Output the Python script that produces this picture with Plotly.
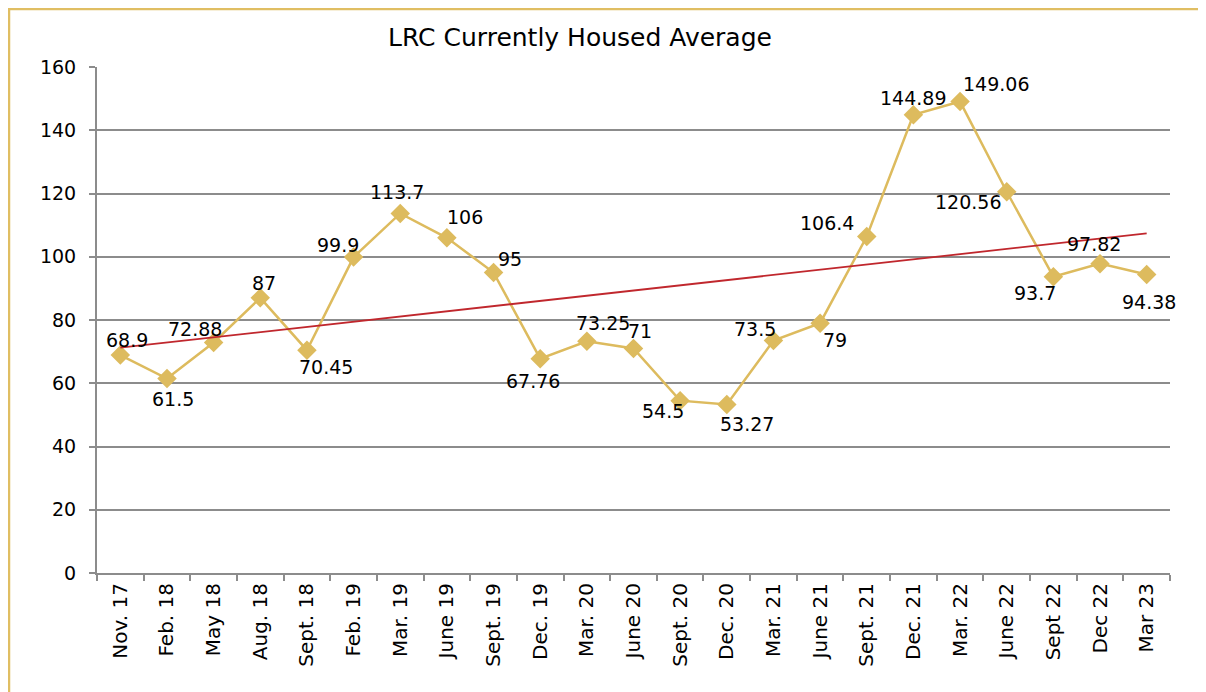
import numpy as np
import plotly.graph_objects as go

# quarterly averages
periods = ["Nov. 17", "Feb. 18", "May 18", "Aug. 18", "Sept. 18", "Feb. 19", "Mar. 19",
           "June 19", "Sept. 19", "Dec. 19", "Mar. 20", "June 20", "Sept. 20", "Dec. 20",
           "Mar. 21", "June 21", "Sept. 21", "Dec. 21", "Mar. 22", "June 22", "Sept 22",
           "Dec 22", "Mar 23"]
housed = [68.9, 61.5, 72.88, 87, 70.45, 99.9, 113.7, 106, 95, 67.76, 73.25, 71, 54.5,
          53.27, 73.5, 79, 106.4, 144.89, 149.06, 120.56, 93.7, 97.82, 94.38]
labels = ["68.9", "61.5", "72.88", "87", "70.45", "99.9", "113.7", "106", "95", "67.76",
          "73.25", "71", "54.5", "53.27", "73.5", "79", "106.4", "144.89", "149.06",
          "120.56", "93.7", "97.82", "94.38"]

# label offsets in px (right, down) from each marker
label_offsets = [(7, -15), (6, 20), (-19, -14), (4, -15), (19, 17), (-16, -12), (-3, -21),
                 (18, -21), (16, -14), (-7, 22), (16, -18), (6, -17), (-17, 10), (20, 19),
                 (-18, -12), (15, 17), (-40, -14), (0, -17), (36, -18), (-39, 10),
                 (-18, 16), (-6, -20), (2, 27)]

GOLD = "#DDBB5E"
RED = "#C0272D"
GRID = "#8C8C8C"
FONT = "DejaVu Sans"

# linear trend like Excel's trendline
idx = np.arange(len(housed))
slope, icpt = np.polyfit(idx, housed, 1)
trend = slope * idx + icpt

fig = go.Figure()
fig.add_trace(go.Scatter(x=periods, y=housed, mode="lines+markers",
                         line=dict(color=GOLD, width=2.5),
                         marker=dict(symbol="diamond", size=15, color=GOLD),
                         showlegend=False))
fig.add_trace(go.Scatter(x=periods, y=trend, mode="lines",
                         line=dict(color=RED, width=1.8), showlegend=False))

for p, v, t, (dx, dy) in zip(periods, housed, labels, label_offsets):
    fig.add_annotation(x=p, y=v, text=t, showarrow=False, xshift=dx, yshift=-dy,
                       font=dict(family=FONT, size=19, color="black"))

# page body has an 8px margin, so the figure is sized/offset to compensate
fig.update_layout(
    width=1198, height=684,
    margin=dict(l=89, r=36, t=59, b=119),
    paper_bgcolor="white", plot_bgcolor="white",
    font=dict(family=FONT, size=18, color="black"),
    title=dict(text="LRC Currently Housed Average", x=572 / 1198, xanchor="center",
               y=1 - 29 / 684, yanchor="middle", font=dict(family=FONT, size=25)),
    xaxis=dict(type="category", range=[-0.5, len(periods) - 0.5], tickangle=-90,
               showgrid=False, showline=True, linecolor=GRID, linewidth=2,
               ticks="outside", tickson="boundaries", ticklen=6, tickcolor=GRID,
               tickwidth=2, tickfont=dict(size=20)),
    yaxis=dict(range=[0, 160], dtick=20, showgrid=True, gridcolor=GRID, gridwidth=2,
               showline=True, linecolor=GRID, linewidth=2, ticks="outside", ticklen=6,
               tickcolor=GRID, tickwidth=2, zeroline=False, tickfont=dict(size=19),
               ticklabelstandoff=9),
)

# gold chart frame (only left and top edges are inside the picture)
fig.add_shape(type="rect", xref="paper", yref="paper",
              x0=(1 - 89) / 1073, x1=1.1, y0=-0.4, y1=1 + (59 - 1) / 506,
              line=dict(color="#E0BE63", width=2.5), layer="below")

fig.write_html("out.html")
